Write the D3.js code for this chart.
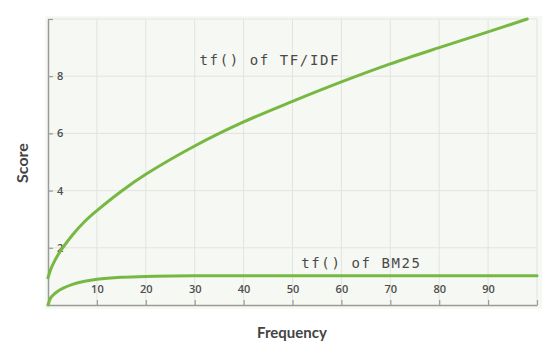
<!DOCTYPE html>
<html><head><meta charset="utf-8">
<script src="https://cdn.jsdelivr.net/npm/d3@7/dist/d3.min.js"></script>
<style>
body{margin:0;background:#fff;}
svg{display:block;}
</style></head>
<body>
<svg id="chart" width="546" height="351"></svg>
<script>
// Data
const freqTfIdf  = [0, 0.5, 1, 2, 3, 5, 7.5, 10, 15, 20, 30, 40, 50, 60, 70, 80, 90, 98];
const scoreTfIdf = [0.95, 1.22, 1.42, 1.74, 2.0, 2.45, 2.92, 3.3, 3.98, 4.57, 5.56, 6.4, 7.12, 7.8, 8.43, 9.0, 9.55, 10.0];
const freqBm25   = [0, 0.5, 1, 2, 3, 5, 7.5, 10, 15, 20, 30, 40, 50, 60, 70, 80, 90, 100];
const scoreBm25  = [0, 0.24, 0.34, 0.48, 0.58, 0.72, 0.83, 0.9, 0.97, 1.0, 1.02, 1.02, 1.02, 1.02, 1.02, 1.02, 1.02, 1.02];
const xTicks = [10, 20, 30, 40, 50, 60, 70, 80, 90, 100];
const xTickLabels = ["10", "20", "30", "40", "50", "60", "70", "80", "90", ""];
const yTicks = [2, 4, 6, 8, 10];
const yTickLabels = ["2", "4", "6", "8", ""];
const seriesLabels = ["tf() of TF/IDF", "tf() of BM25"];
const xTitle = "Frequency";
const yTitle = "Score";

const svg = d3.select("#chart");
const x = d3.scaleLinear().domain([0, 100]).range([48, 537]);
const y = d3.scaleLinear().domain([0, 10]).range([305, 19]);

// plot background
svg.append("rect").attr("x", 45).attr("y", 16).attr("width", 497).attr("height", 293)
  .attr("fill", "#f6f8f3");

// grid
svg.append("g").selectAll("line").data(xTicks).join("line")
  .attr("x1", d => x(d)).attr("x2", d => x(d)).attr("y1", y(10)).attr("y2", y(0))
  .attr("stroke", "#e2e4df").attr("stroke-width", 1);
svg.append("g").selectAll("line").data(yTicks).join("line")
  .attr("x1", x(0)).attr("x2", x(100)).attr("y1", d => y(d)).attr("y2", d => y(d))
  .attr("stroke", "#e2e4df").attr("stroke-width", 1);

// axes
const yAxis = d3.axisLeft(y).tickValues(yTicks)
  .tickFormat((d, i) => yTickLabels[i]).tickSizeInner(-5).tickSizeOuter(0);
const gy = svg.append("g").attr("transform", `translate(${x(0)},0)`).call(yAxis);
gy.select(".domain").attr("stroke", "#9a9a9a").attr("stroke-width", 1.5);
gy.selectAll(".tick line").attr("stroke", "#9a9a9a").attr("stroke-width", 1.2);
gy.selectAll(".tick text").attr("x", 9).attr("text-anchor", "start")
  .attr("fill", "#4d4d4d").style("font", "600 11px 'Open Sans', sans-serif");

const xAxis = d3.axisBottom(x).tickValues(xTicks)
  .tickFormat((d, i) => xTickLabels[i]).tickSizeInner(-5).tickSizeOuter(0);
const gx = svg.append("g").attr("transform", `translate(0,${y(0)})`).call(xAxis);
gx.select(".domain").attr("stroke", "#9a9a9a").attr("stroke-width", 1.5);
gx.selectAll(".tick line").attr("stroke", "#9a9a9a").attr("stroke-width", 1.2);
gx.selectAll(".tick text").attr("y", -16).attr("dy", "0.35em")
  .attr("fill", "#4d4d4d").style("font", "600 11px 'Open Sans', sans-serif");

// curves
const line = d3.line().x(d => x(d[0])).y(d => y(d[1])).curve(d3.curveCatmullRom.alpha(0.5));
const tfidf = freqTfIdf.map((f, i) => [f, scoreTfIdf[i]]);
const bm25 = freqBm25.map((f, i) => [f, scoreBm25[i]]);
[tfidf, bm25].forEach(data => {
  svg.append("path").datum(data).attr("d", line)
    .attr("fill", "none").attr("stroke", "#77b843").attr("stroke-width", 3)
    .attr("stroke-linecap", "round");
});

// series labels
svg.append("text").attr("x", x(31)).attr("y", y(8.4)).text(seriesLabels[0])
  .attr("fill", "#4a4a4a").attr("letter-spacing", "1.6px")
  .style("font", "14px 'DejaVu Sans Mono', monospace");
svg.append("text").attr("x", x(51.8)).attr("y", y(1.3)).text(seriesLabels[1])
  .attr("fill", "#4a4a4a").attr("letter-spacing", "1.6px")
  .style("font", "14px 'DejaVu Sans Mono', monospace");

// axis titles
svg.append("text").attr("x", 292).attr("y", 338).attr("text-anchor", "middle")
  .text(xTitle).attr("fill", "#444").style("font", "bold 15px Lato, sans-serif");
svg.append("text").attr("transform", "translate(28,163) rotate(-90)").attr("text-anchor", "middle")
  .text(yTitle).attr("fill", "#444").style("font", "bold 16px Lato, sans-serif");
</script>
</body></html>
